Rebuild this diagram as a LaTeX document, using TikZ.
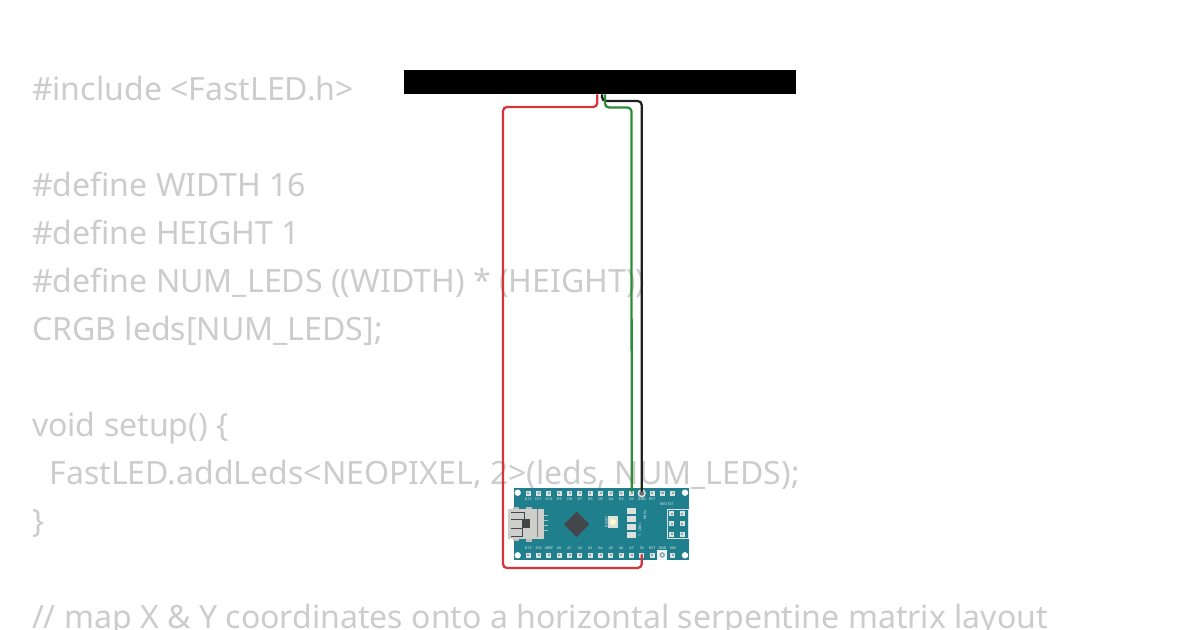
\documentclass[tikz,border=0pt]{standalone}
\usepackage{fontspec}
\setmainfont{Noto Sans}
\definecolor{codegray}{HTML}{CCCCCC}
\definecolor{boardteal}{HTML}{1F7F8C}
\definecolor{padgray}{HTML}{DDE2DE}
\definecolor{padcore}{HTML}{8FA8AC}
\definecolor{usbgray}{HTML}{BDBEB9}
\definecolor{chipdark}{HTML}{44474A}
\definecolor{wirered}{HTML}{D8333A}
\definecolor{wiregreen}{HTML}{2E8B3A}
\definecolor{wireblack}{HTML}{202020}
\tikzset{
  x=0.75pt,y=-0.75pt,
  codeline/.style={anchor=base west,inner sep=0pt,outer sep=0pt,text=codegray,font=\fontsize{24.05}{24}\selectfont},
  silk/.style={inner sep=0pt,text=white!90!boardteal,font=\fontsize{2.7}{2.7}\selectfont\bfseries},
  wirepath/.style={line width=1.7pt,rounded corners=3pt,line cap=round},
}
\begin{document}
\begin{tikzpicture}
\useasboundingbox (0,0) rectangle (1200,630);
\clip (0,0) rectangle (1200,630);
% code text
\node[codeline] (c1) at (32,100.6) {\#include <FastLED.h>};
\node[codeline] (c2) at (32,196.6) {\#define WIDTH 16};
\node[codeline] (c3) at (32,244.6) {\#define HEIGHT 1};
\node[codeline] (c4) at (32,292.6) {\#define NUM\_LEDS ((WIDTH) * (HEIGHT))};
\node[codeline] (c5) at (32,340.6) {CRGB leds[NUM\_LEDS];};
\node[codeline] (c6) at (32,436.6) {void setup() \{};
\node[codeline] (c7) at (49.5,484.6) {FastLED.addLeds<NEOPIXEL, 2>(leds, NUM\_LEDS);};
\node[codeline] (c8) at (32,532.6) {\}};
\node[codeline] (c9) at (32,628.6) {// map X \& Y coordinates onto a horizontal serpentine matrix layout};
% LED strip
\node[fill=black,minimum width=392.5*0.75pt,minimum height=24.5*0.75pt,inner sep=0pt,outer sep=0pt] (strip) at (600,82.2) {};
% board
\node[fill=boardteal,minimum width=175*0.75pt,minimum height=72*0.75pt,inner sep=0pt,outer sep=0pt] (board) at (601.5,524) {};
\foreach \p in {517.7,685}{
  \foreach \q in {492.7,555.3}{ \fill[white] (\p,\q) circle (3.2); }
}
% pads
\foreach \i in {0,...,14}{
  \pgfmathsetmacro{\px}{528.3+10.33*\i}
  \fill[padgray] (\px-2.5,490.8) rectangle (\px+2.5,495.8);
  \fill[padcore] (\px-1.1,492.2) rectangle (\px+1.1,494.4);
  \fill[padgray] (\px-2.5,552.6) rectangle (\px+2.5,557.6);
  \fill[padcore] (\px-1.1,554) rectangle (\px+1.1,556.2);
}
% pin halos
\fill[padgray] (641.7,493.3) circle (4.2);
\fill[chipdark!80!white] (641.7,493.3) circle (2.4);
\fill[white!92!boardteal] (657,550) rectangle (667.4,560);
\fill[padcore] (662.2,555) circle (2.8);
\fill[white] (662.2,555) circle (1.2);
% silk labels
\foreach \t [count=\i from 0] in {D12,D11,D10,D9,D8,D7,D6,D5,D4,D3,D2,GND,RST}{
  \pgfmathsetmacro{\px}{528.3+10.33*\i}
  \node[silk] (top\i) at (\px,499.5) {\t};
}
\foreach \t [count=\i from 0] in {D13,3V3,AREF,A0,A1,A2,A3,A4,A5,A6,A7,5V,RST,GND,VIN}{
  \pgfmathsetmacro{\px}{528.3+10.33*\i}
  \node[silk] (bot\i) at (\px,548.3) {\t};
}
\node[silk] (rxtx) at (667,504) {RX0 TX1};
\node[silk,rotate=-90] (txrx) at (645,515) {TX RX};
\node[silk,rotate=-90] (pwr) at (640,527) {1 M\char"03A9};
\node[silk,rotate=-90] (ledl) at (640,535) {L};
\node[silk,rotate=90] (rsttxt) at (606.7,522) {RESET};
% USB
\fill[usbgray] (513,507) rectangle (519,541);
\fill[usbgray] (526,507) rectangle (532,542);
\fill[usbgray!75!white] (508,509) rectangle (544,539);
\draw[chipdark,line width=0.5pt] (511,512) -- (524,512) -- (524,519) -- (511,519);
\fill[chipdark] (522,519) rectangle (530,528);
\draw[chipdark,line width=0.5pt] (511,536) -- (522,536) -- (522,528) -- (511,528);
\fill[chipdark!70!white] (537,509) rectangle (538.2,537);
\foreach \q in {515,520,525,530}{ \fill[usbgray] (544,\q) rectangle (548,\q+1); }
% chip
\fill[chipdark] (576.7,511.6) -- (589.4,524.3) -- (576.7,537) -- (564,524.3) -- cycle;
% reset button
\fill[padgray] (608,516) rectangle (618,528);
\fill[white!80!yellow] (613,522) circle (3);
% leds
\foreach \q in {511,519,527,535}{ \fill[padgray] (627,\q-2.7) rectangle (636.4,\q+2.7); }
% ICSP
\draw[white!80!boardteal,line width=0.4pt] (667,509) rectangle (688,538);
\foreach \p in {671.7,682.3}{
  \foreach \q in {513.7,524,534.3}{
    \fill[padgray] (\p-2.5,\q-2.5) rectangle (\p+2.5,\q+2.5);
    \fill[padcore] (\p-1.1,\q-1.1) rectangle (\p+1.1,\q+1.1);
  }
}
% connectors
\coordinate (sR) at (597.3,95);
\coordinate (sB) at (602,95);
\coordinate (sG) at (605,95);
\coordinate (pR) at (641.7,555);
\coordinate (pG) at (631.7,491);
\coordinate (pB) at (641.7,491);
\draw[wirepath,wirered] (sR) -- (597.3,107) -- (503,107) -- (503,568) -- (641.7,568) -- (pR);
\draw[wirepath,wireblack] (sB) -- (602,101) -- (641.7,101) -- (pB);
\draw[wirepath,wiregreen] (sG) -- (605,107.5) -- (631.5,107.5) -- (pG);
\end{tikzpicture}
\end{document}
